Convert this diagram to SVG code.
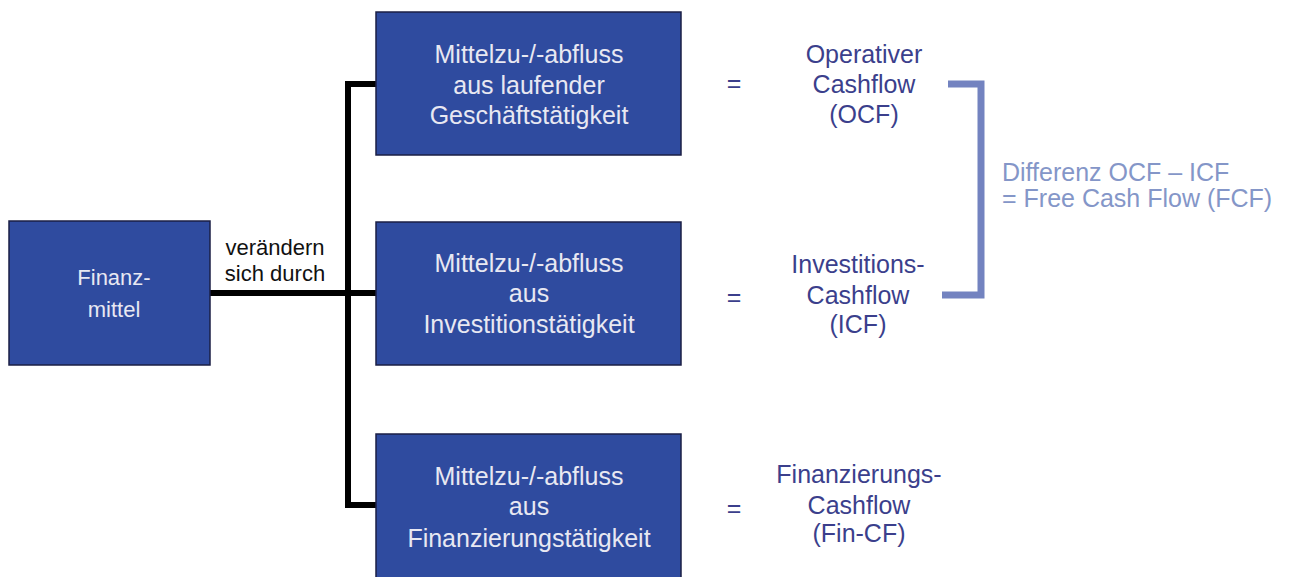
<svg xmlns="http://www.w3.org/2000/svg" width="1289" height="577" viewBox="0 0 1289 577">
<style>
.box{fill:#2f4b9f;stroke:#1b1f45;stroke-width:1.5}
.bt{font-family:"Liberation Sans",Arial,sans-serif;font-size:25px;fill:#e8e8f2;text-anchor:middle}
.ft{font-family:"Liberation Sans",Arial,sans-serif;font-size:22px;fill:#e8e8f2;text-anchor:middle}
.lbl{font-family:"Liberation Sans",Arial,sans-serif;font-size:22px;fill:#111;text-anchor:middle}
.cf{font-family:"Liberation Sans",Arial,sans-serif;font-size:25px;fill:#3b3f8c;text-anchor:middle}
.diff{font-family:"Liberation Sans",Arial,sans-serif;font-size:25px;fill:#8496c8}
.conn{fill:none;stroke:#000;stroke-width:6}
.brk{fill:none;stroke:#7383c0;stroke-width:7}
</style>
<rect width="1289" height="577" fill="#fff"/>
<g id="connectors">
<path class="conn" d="M210,293 H348"/>
<path class="conn" d="M376,84 H348 V505 H376"/>
<path class="conn" d="M348,293 H376"/>
</g>
<g id="finanzmittel">
<rect class="box" x="9" y="221" width="201" height="144"/>
<text class="ft" x="114" y="285">Finanz-</text>
<text class="ft" x="114" y="317">mittel</text>
</g>
<g id="label-veraendern">
<text class="lbl" x="275" y="255">verändern</text>
<text class="lbl" x="275" y="281">sich durch</text>
</g>
<g id="box-operativ">
<rect class="box" x="376" y="12" width="305" height="143"/>
<text class="bt" x="529" y="63">Mittelzu-/-abfluss</text>
<text class="bt" x="529" y="94">aus laufender</text>
<text class="bt" x="529" y="124">Geschäftstätigkeit</text>
</g>
<g id="box-investition">
<rect class="box" x="376" y="222" width="305" height="143"/>
<text class="bt" x="529" y="272">Mittelzu-/-abfluss</text>
<text class="bt" x="529" y="302">aus</text>
<text class="bt" x="529" y="333">Investitionstätigkeit</text>
</g>
<g id="box-finanzierung">
<rect class="box" x="376" y="434" width="305" height="150"/>
<text class="bt" x="529" y="485">Mittelzu-/-abfluss</text>
<text class="bt" x="529" y="515">aus</text>
<text class="bt" x="529" y="547">Finanzierungstätigkeit</text>
</g>
<g id="ocf">
<text class="cf" x="734" y="92">=</text>
<text class="cf" x="864" y="63">Operativer</text>
<text class="cf" x="864" y="93">Cashflow</text>
<text class="cf" x="864" y="123">(OCF)</text>
</g>
<g id="icf">
<text class="cf" x="734" y="306">=</text>
<text class="cf" x="858" y="273">Investitions-</text>
<text class="cf" x="858" y="304">Cashflow</text>
<text class="cf" x="858" y="333">(ICF)</text>
</g>
<g id="fincf">
<text class="cf" x="734" y="517">=</text>
<text class="cf" x="859" y="483">Finanzierungs-</text>
<text class="cf" x="859" y="514">Cashflow</text>
<text class="cf" x="859" y="542">(Fin-CF)</text>
</g>
<g id="fcf">
<path class="brk" d="M948,84 H981 V295 H942"/>
<text class="diff" x="1002" y="181">Differenz OCF – ICF</text>
<text class="diff" x="1002" y="207">= Free Cash Flow (FCF)</text>
</g>
</svg>
